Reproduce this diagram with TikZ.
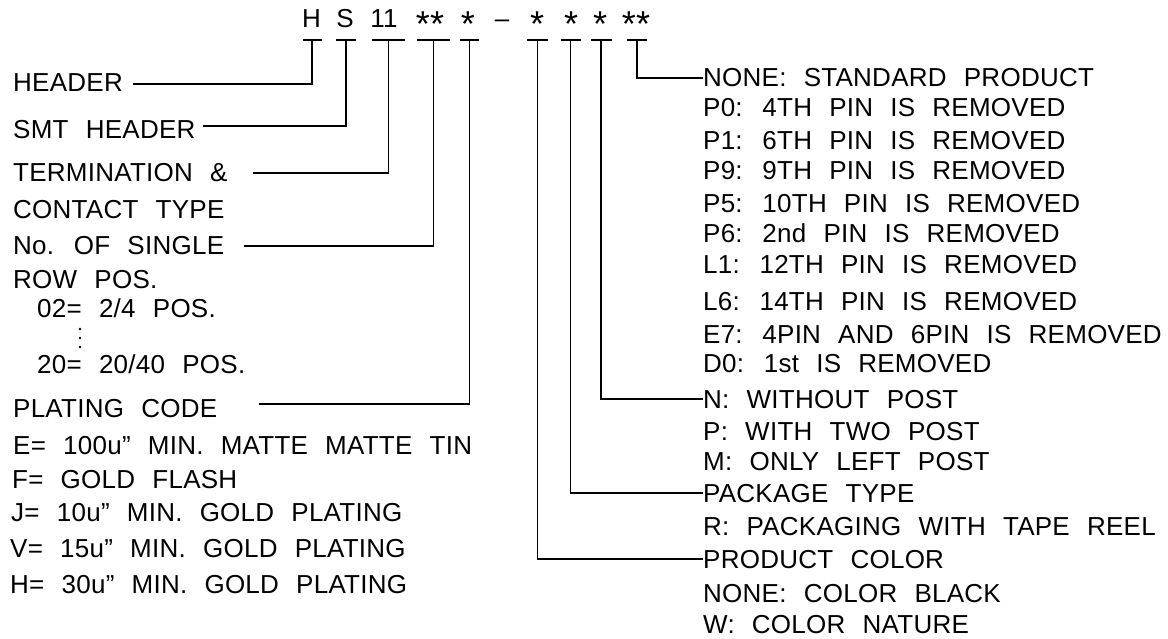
\documentclass[tikz,border=0pt]{standalone}
\usepackage{fontspec}
\setmainfont{Liberation Sans}[WordSpace=2.3,LetterSpace=1]

\begin{document}
\begin{tikzpicture}[
    x=1pt,y=-1pt,
    every node/.style={inner sep=0pt,font=\fontsize{26}{30}\selectfont},
    code/.style={anchor=base},
    star/.style={anchor=base,font=\fontsize{36}{40}\selectfont},
    label/.style={anchor=base west,text height=18pt,text depth=0pt},
    lead/.style={line width=1.1pt},
    tick/.style={line width=1.1pt}
  ]
    \useasboundingbox (0,0) rectangle (1168,639);

    % part number
    \node[code] (cH) at (311.5,28) {H};
    \node[code] (cS) at (345,28) {S};
    \node[code] (cT) at (384,28) {11};
    \node[star] (cN) at (430,37) {**};
    \node[star] (cP) at (468,37) {*};
    \node[code] (cD) at (502,28) {–};
    \node[star] (cC) at (537,37) {*};
    \node[star] (cK) at (571,37) {*};
    \node[star] (cW) at (600,37) {*};
    \node[star] (cR) at (636,37) {**};

    \coordinate (tH) at (312,40);
    \coordinate (tS) at (346,40);
    \coordinate (tT) at (388.5,40);
    \coordinate (tN) at (433.5,40);
    \coordinate (tP) at (469.5,40);
    \coordinate (tC) at (537.5,40);
    \coordinate (tK) at (570.5,40);
    \coordinate (tW) at (601,40);
    \coordinate (tR) at (637,40);

    \draw[tick] ([xshift=-9.5pt]tH) -- ([xshift=9.5pt]tH);
    \draw[tick] ([xshift=-10pt]tS) -- ([xshift=10pt]tS);
    \draw[tick] ([xshift=-16.5pt]tT) -- ([xshift=16.5pt]tT);
    \draw[tick] ([xshift=-16.5pt]tN) -- ([xshift=16.5pt]tN);
    \draw[tick] ([xshift=-9.5pt]tP) -- ([xshift=9.5pt]tP);
    \draw[tick] ([xshift=-10.5pt]tC) -- ([xshift=10.5pt]tC);
    \draw[tick] ([xshift=-10pt]tK) -- ([xshift=10pt]tK);
    \draw[tick] ([xshift=-10.5pt]tW) -- ([xshift=10.5pt]tW);
    \draw[tick] ([xshift=-10pt]tR) -- ([xshift=10pt]tR);

    % left column
    \node[label] (lHeader) at (13,92) {HEADER};
    \node[label] (lSmt) at (13,139) {SMT HEADER};
    \node[label] (lTerm) at (13,182) {TERMINATION \&};
    \node[label] (lTermB) at (13,219) {CONTACT TYPE};
    \node[label] (lPos) at (13,255) {No. OF SINGLE};
    \node[label] (lPosB) at (13,289) {ROW POS.};
    \node[label] (lPos02) at (37,317) {02= 2/4 POS.};
    \node[label] (lPos20) at (37,373) {20= 20/40 POS.};
    \node[label] (lPlate) at (13,417) {PLATING CODE};
    \node[label] (lPlateE) at (13,454) {E= 100u” MIN. MATTE MATTE TIN};
    \node[label] (lPlateF) at (12,488) {F= GOLD FLASH};
    \node[label] (lPlateJ) at (11,521) {J= 10u” MIN. GOLD PLATING};
    \node[label] (lPlateV) at (10,557) {V= 15u” MIN. GOLD PLATING};
    \node[label] (lPlateH) at (10,593) {H= 30u” MIN. GOLD PLATING};

    \foreach \y in {329,338,347}
      \fill (80,\y) circle (1.4pt);

    \coordinate (sHeader) at (133,84);
    \coordinate (sSmt) at (203,126);
    \coordinate (sTerm) at (253,173);
    \coordinate (sPos) at (244,246);
    \coordinate (sPlate) at (259,404);

    \draw[lead] (sHeader) -| (tH);
    \draw[lead] (sSmt) -| (tS);
    \draw[lead] (sTerm) -| (tT);
    \draw[lead] (sPos) -| (tN);
    \draw[lead] (sPlate) -| (tP);

    % right column
    \node[label] (rPin) at (703,87) {NONE: STANDARD PRODUCT};
    \node[label] (rPinA) at (703,117) {P0: 4TH PIN IS REMOVED};
    \node[label] (rPinB) at (703,150) {P1: 6TH PIN IS REMOVED};
    \node[label] (rPinC) at (703,180) {P9: 9TH PIN IS REMOVED};
    \node[label] (rPinD) at (703,213) {P5: 10TH PIN IS REMOVED};
    \node[label] (rPinE) at (703,243) {P6: 2nd PIN IS REMOVED};
    \node[label] (rPinF) at (703,273) {L1: 12TH PIN IS REMOVED};
    \node[label] (rPinG) at (703,310) {L6: 14TH PIN IS REMOVED};
    \node[label] (rPinH) at (703,343) {E7: 4PIN AND 6PIN IS REMOVED};
    \node[label] (rPinI) at (703,372) {D0: 1st IS REMOVED};
    \node[label] (rPost) at (703,408) {N: WITHOUT POST};
    \node[label] (rPostA) at (703,440) {P: WITH TWO POST};
    \node[label] (rPostB) at (703,470) {M: ONLY LEFT POST};
    \node[label] (rPack) at (703,502) {PACKAGE TYPE};
    \node[label] (rPackA) at (703,535) {R: PACKAGING WITH TAPE REEL};
    \node[label] (rColor) at (703,568) {PRODUCT COLOR};
    \node[label] (rColorA) at (703,602) {NONE: COLOR BLACK};
    \node[label] (rColorB) at (703,633) {W: COLOR NATURE};

    \draw[lead] (tR) |- (rPin.west);
    \draw[lead] (tW) |- (rPost.west);
    \draw[lead] (tK) |- (rPack.west);
    \draw[lead] (tC) |- (rColor.west);
  \end{tikzpicture}
\end{document}
